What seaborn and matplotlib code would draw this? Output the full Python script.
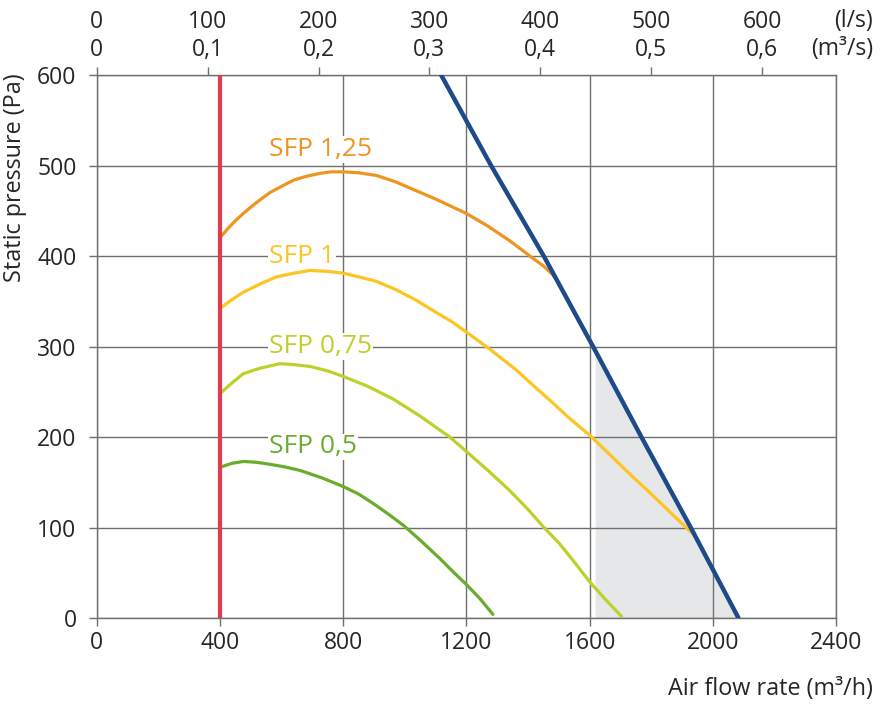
import numpy as np
import pandas as pd
import seaborn as sns
import matplotlib.pyplot as plt

# curvas SFP (caudal m3/h, presion Pa)
sfp125_x = [400, 425, 450, 476, 500, 530, 562, 600, 640, 680, 720, 760, 800, 850, 908,
            970, 1038, 1100, 1150, 1200, 1270, 1340, 1410, 1450, 1481, 1492]
sfp125_y = [420, 430, 439, 447, 454, 462, 470, 477, 484, 488, 491, 493, 493, 492, 489,
            482, 472, 463, 455, 447, 433, 417, 399, 389, 379, 374]

sfp1_x = [400, 440, 476, 530, 584, 640, 692, 750, 800, 850, 908, 970, 1038, 1100, 1150,
          1200, 1280, 1362, 1420, 1470, 1530, 1600, 1670, 1740, 1800, 1870, 1935]
sfp1_y = [342, 352, 360, 369, 377, 381, 384, 383, 381, 377, 372, 363, 351, 338, 328,
          316, 296, 274, 256, 241, 222, 202, 179, 156, 137, 114, 93]

sfp075_x = [400, 440, 476, 530, 595, 640, 692, 750, 800, 880, 962, 1050, 1100, 1146,
            1200, 1270, 1340, 1400, 1449, 1500, 1550, 1600, 1650, 1703]
sfp075_y = [248, 260, 270, 276, 281, 280, 278, 273, 267, 256, 242, 223, 211, 200,
            184, 163, 141, 120, 101, 83, 62, 40, 21, 2]

sfp05_x = [404, 440, 477, 520, 560, 610, 661, 730, 802, 850, 900, 950, 997, 1050,
           1113, 1160, 1200, 1245, 1286]
sfp05_y = [167, 171, 173, 172, 170, 167, 163, 155, 145, 137, 126, 114, 102, 86,
           66, 50, 37, 21, 4]

# curva maxima del ventilador
max_x = [1118, 1280, 1451, 1611, 1768, 1928, 2083]
max_y = [600, 500, 400, 300, 200, 100, 0]

# caudal minimo
min_x = [400, 400]
min_y = [0, 600]

shade_start = 1618

labels = ['SFP 1,25', 'SFP 1', 'SFP 0,75', 'SFP 0,5']
label_x = [559, 559, 559, 559]
label_y = [518, 400, 300, 189]
colores = ['#ee9420', '#fcc521', '#bdd12a', '#6aac2c']

ls_ticks = [0, 100, 200, 300, 400, 500, 600]
m3s_ticks = ['0', '0,1', '0,2', '0,3', '0,4', '0,5', '0,6']

sns.set_style('white')
plt.rcParams['font.family'] = ['Open Sans', 'DejaVu Sans']

fig = plt.figure(figsize=(8.82, 7.11), dpi=100)
ax = fig.add_axes([0.1096, 0.1308, 0.8384, 0.7637])

gris = '#707070'

# zona sombreada bajo la curva maxima (por debajo de la rejilla)
xs = np.linspace(shade_start, max_x[-1], 60)
ys = np.interp(xs, max_x, max_y)
ax.fill_between(xs, 0, ys, color='#e6e7e9', lw=0, zorder=0.2)

curvas = [(sfp125_x, sfp125_y), (sfp1_x, sfp1_y), (sfp075_x, sfp075_y), (sfp05_x, sfp05_y)]
for (cx, cy), col in zip(curvas, colores):
    df = pd.DataFrame({'q': cx, 'p': cy})
    sns.lineplot(data=df, x='q', y='p', color=col, lw=2.3, ax=ax,
                 estimator=None, sort=False, zorder=3)

sns.lineplot(x=max_x, y=max_y, color='#1f4a8a', lw=3.2, ax=ax,
             estimator=None, sort=False, zorder=4)
sns.lineplot(x=min_x, y=min_y, color='#e03c50', lw=3, ax=ax,
             estimator=None, sort=False, zorder=4)

for txt, tx, ty, col in zip(labels, label_x, label_y, colores):
    ax.text(tx, ty, txt, color=col, fontsize=19, va='center', ha='left', zorder=5,
            bbox=dict(facecolor='white', edgecolor='none', pad=0.5))

ax.set_xlim(0, 2400)
ax.set_ylim(0, 600)
ax.set_xticks(range(0, 2401, 400))
ax.set_yticks(range(0, 601, 100))
ax.grid(True, color=gris, lw=1, zorder=0.5)
ax.set_axisbelow(True)
for s in ax.spines.values():
    s.set_color(gris)
    s.set_linewidth(1)
ax.tick_params(axis='both', direction='out', length=5.5, width=1, color=gris,
               labelsize=16.5, bottom=True, left=True)
ax.tick_params(axis='x', pad=4)
ax.tick_params(axis='y', pad=9)
ax.set_xlabel('')
ax.set_ylabel('')

ax2 = ax.twiny()
ax2.set_xlim(0, 2400)
ax2.set_xticks([v * 3.6 for v in ls_ticks])
ax2.set_xticklabels([f'{a}\n{b}' for a, b in zip(ls_ticks, m3s_ticks)], linespacing=1.2)
ax2.tick_params(axis='x', direction='out', length=6, width=1, color=gris,
                labelsize=16.5, pad=3.5, top=True)
for s in ax2.spines.values():
    s.set_visible(False)
ax2.grid(False)

fig.text(873 / 882, 1 - 35 / 711, '(l/s)\n(m³/s)', ha='right', va='center',
         fontsize=16.5, linespacing=1.2)
fig.text(873 / 882, 1 - 689 / 711, 'Air flow rate (m³/h)', ha='right', va='center', fontsize=16.8)
fig.text(15 / 882, 1 - 73 / 711, 'Static pressure (Pa)', ha='center', va='top',
         rotation=90, fontsize=16.8)

fig.savefig('out.png', dpi=100)
